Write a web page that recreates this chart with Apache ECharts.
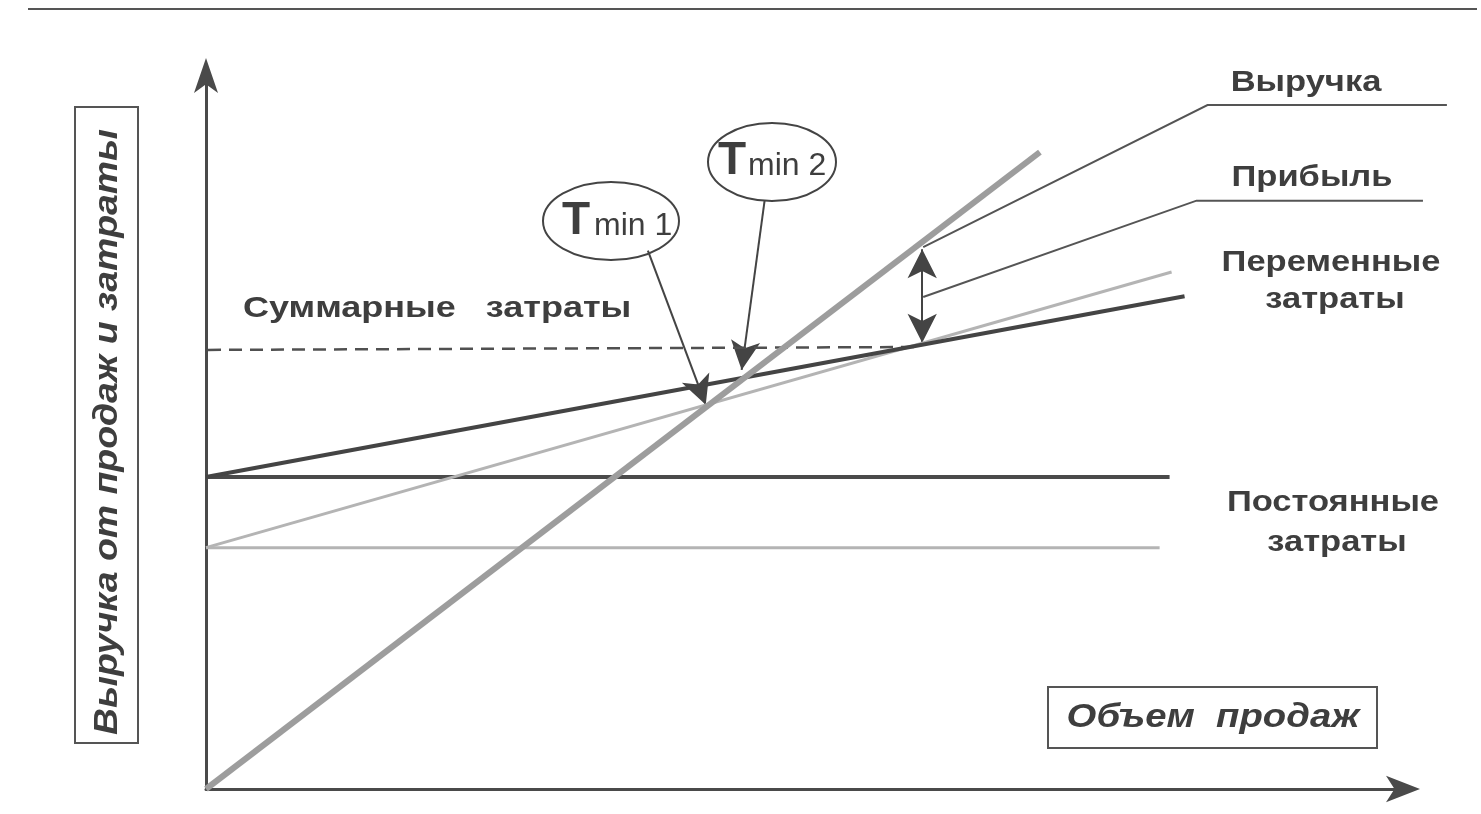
<!DOCTYPE html>
<html>
<head>
<meta charset="utf-8">
<script src="https://cdn.jsdelivr.net/npm/echarts@6/dist/echarts.min.js"></script>
<style>
  html, body { margin: 0; padding: 0; background: #fff; }
  #main { width: 1481px; height: 814px; }
</style>
</head>
<body>
<div id="main"></div>
<script>
  // line data, in abstract units (x: sales volume 0..120, y: money 0..100)
  var revenue = [[0, 0], [83.6, 89.2]];
  var totalCosts = [[0, 43.7], [98.1, 69.0]];
  var variableCosts = [[0, 33.8], [96.8, 72.4]];
  var fixedCostsHigh = [[0, 43.7], [96.6, 43.7]];
  var fixedCostsLow = [[0, 33.8], [95.6, 33.8]];
  var costLevel = [[0.2, 61.5], [71, 61.9]];

  // annotation lines (leaders and pointers)
  var revenueLeader = [[71.9, 75.9], [100.4, 95.8], [124.4, 95.8]];
  var profitLeader = [[71.9, 68.9], [99.3, 82.4], [122, 82.4]];
  var profitSpan = [[71.8, 62.5], [71.8, 75.6]];
  var tmin1Pointer = [[44.3, 75.4], [50.1, 53.8]];
  var tmin2Pointer = [[56.0, 82.4], [53.7, 58.7]];

  var font = 'Arial, "Liberation Sans", sans-serif';
  var ink = '#3e3e3e';

  var myChart = echarts.init(document.getElementById('main'));

  function seg(name, data, color, width, type) {
    return {
      name: name,
      type: 'line',
      data: data,
      symbol: 'none',
      clip: false,
      silent: true,
      lineStyle: { color: color, width: width, type: type || 'solid' }
    };
  }

  // leaders reach past the end of the x axis, so they live on a wider, hidden grid
  function leader(data) {
    return {
      type: 'lines',
      coordinateSystem: 'cartesian2d',
      xAxisIndex: 1,
      yAxisIndex: 1,
      polyline: true,
      silent: true,
      lineStyle: { color: '#555', width: 2, opacity: 1 },
      data: [{ coords: data }]
    };
  }

  function arrow(data, both) {
    return {
      type: 'lines',
      coordinateSystem: 'cartesian2d',
      silent: true,
      symbol: both ? ['arrow', 'arrow'] : ['none', 'arrow'],
      symbolSize: [[22, 29], [22, 29]],
      lineStyle: { color: '#444', width: 2, opacity: 1 },
      itemStyle: { color: '#444' },
      data: [{ coords: data }]
    };
  }

  function label(text, x, y, size, opts) {
    opts = opts || {};
    return {
      type: 'text',
      x: x,
      y: y,
      scaleX: opts.scaleX || 1.15,
      rotation: opts.rotation || 0,
      z: 100,
      style: {
        text: text,
        x: 0,
        y: 0,
        fill: ink,
        font: (opts.italic ? 'italic ' : '') + (opts.normal ? '' : 'bold ') + size + 'px ' + font,
        align: opts.align || 'center',
        verticalAlign: 'middle'
      }
    };
  }

  var hidden = {
    axisLine: { show: false },
    axisTick: { show: false },
    axisLabel: { show: false },
    splitLine: { show: false }
  };

  var option = {
    animation: false,
    backgroundColor: '#fff',
    grid: [
      { left: 206, right: 78, top: 75, bottom: 25 },
      { left: 206, right: 34, top: 75, bottom: 25 }
    ],
    xAxis: [
      {
        type: 'value',
        min: 0,
        max: 120,
        axisLine: {
          show: true,
          symbol: ['none', 'arrow'],
          symbolSize: [20, 34],
          symbolOffset: [0, 17],
          lineStyle: { color: '#4a4a4a', width: 3 }
        },
        axisTick: { show: false },
        axisLabel: { show: false },
        splitLine: { show: false }
      },
      Object.assign({ type: 'value', gridIndex: 1, min: 0, max: 124.41 }, hidden)
    ],
    yAxis: [
      {
        type: 'value',
        min: 0,
        max: 100,
        axisLine: {
          show: true,
          symbol: ['none', 'arrow'],
          symbolSize: [18, 35],
          symbolOffset: [0, 17],
          lineStyle: { color: '#4a4a4a', width: 3 }
        },
        axisTick: { show: false },
        axisLabel: { show: false },
        splitLine: { show: false }
      },
      Object.assign({ type: 'value', gridIndex: 1, min: 0, max: 100 }, hidden)
    ],
    series: [
      seg('Постоянные затраты 2', fixedCostsLow, '#b4b4b4', 3),
      seg('Постоянные затраты', fixedCostsHigh, '#4a4a4a', 4),
      seg('Переменные затраты', variableCosts, '#b4b4b4', 3),
      seg('Уровень', costLevel, '#505050', 2.5, [13, 8]),
      seg('Суммарные затраты', totalCosts, '#444', 4),
      leader(revenueLeader),
      leader(profitLeader),
      seg('Выручка', revenue, '#9d9d9d', 6),
      arrow(profitSpan, true),
      arrow(tmin1Pointer, false),
      arrow(tmin2Pointer, false)
    ],
    graphic: [
      // top rule of the page
      { type: 'line', shape: { x1: 28, y1: 9, x2: 1477, y2: 9 }, style: { stroke: '#555', lineWidth: 2 } },
      // y axis caption box
      { type: 'rect', shape: { x: 75, y: 107, width: 63, height: 636 }, style: { fill: '#fff', stroke: '#555', lineWidth: 2 } },
      label('Выручка от продаж и затраты', 108, 432, 34, { italic: true, rotation: Math.PI / 2, scaleX: 1.1 }),
      // x axis caption box
      { type: 'rect', shape: { x: 1048, y: 687, width: 329, height: 61 }, style: { fill: '#fff', stroke: '#555', lineWidth: 2 } },
      label('Объем  продаж', 1213, 718, 33, { italic: true, scaleX: 1.16 }),
      // series captions
      label('Суммарные   затраты', 243, 309, 30, { align: 'left', scaleX: 1.2 }),
      label('Выручка', 1306, 83, 30),
      label('Прибыль', 1312, 178, 30),
      label('Переменные', 1331, 263, 30),
      label('затраты', 1335, 300, 30),
      label('Постоянные', 1333, 503, 30),
      label('затраты', 1337, 543, 30),
      // Tmin bubbles
      { type: 'ellipse', shape: { cx: 611, cy: 221, rx: 68, ry: 39 }, style: { fill: 'none', stroke: '#444', lineWidth: 2 } },
      label('T', 562, 221, 46, { align: 'left', scaleX: 1 }),
      label('min 1', 594, 226, 32, { align: 'left', normal: true, scaleX: 1 }),
      { type: 'ellipse', shape: { cx: 772, cy: 162, rx: 64, ry: 39 }, style: { fill: 'none', stroke: '#444', lineWidth: 2 } },
      label('T', 718, 161, 46, { align: 'left', scaleX: 1 }),
      label('min 2', 748, 166, 32, { align: 'left', normal: true, scaleX: 1 })
    ]
  };

  myChart.setOption(option);
</script>
</body>
</html>
